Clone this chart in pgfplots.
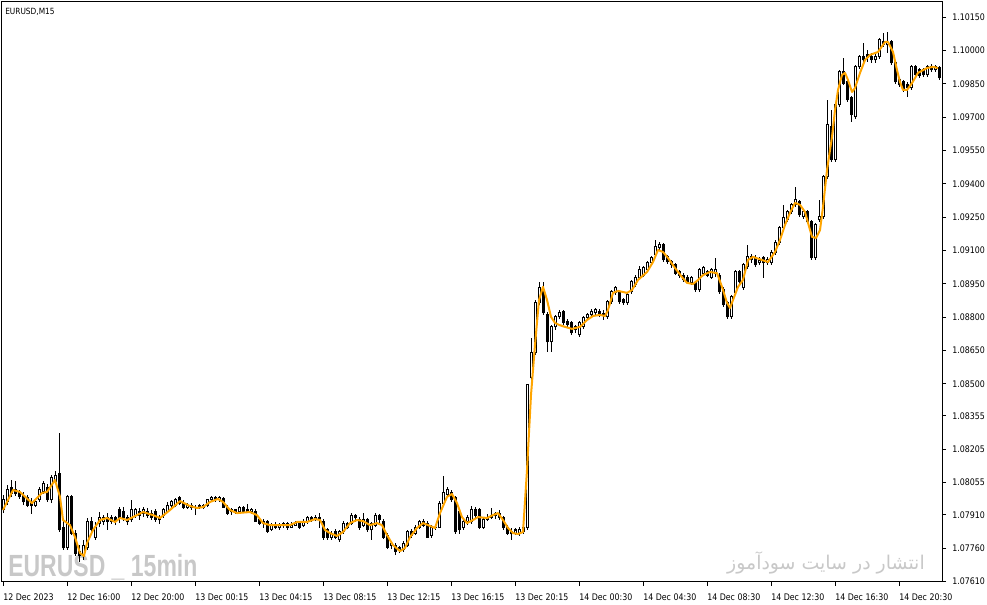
\documentclass[border=0pt]{standalone}
\usepackage{pgfplots}
\pgfplotsset{compat=1.18}
\usepackage{pgfplotstable}
\usepackage{fontspec}
\setmainfont{DejaVu Sans}[FakeStretch=0.87]
\newfontfamily\wmfont{Liberation Sans}[FakeStretch=0.75]
\newfontfamily\arabicfont[Script=Arabic]{DejaVu Sans}
\TeXXeTstate=1

\definecolor{maorange}{RGB}{255,165,0}
\definecolor{wmgray}{RGB}{200,200,200}

% EURUSD M15 candles: bar index, open, high, low, close
\pgfplotstableread{
i o h l c
0 1.07932 1.08000 1.07918 1.07977
1 1.07968 1.08044 1.07954 1.08022
2 1.08031 1.08067 1.07991 1.08004
3 1.08022 1.08062 1.07995 1.08004
4 1.08009 1.08022 1.07982 1.07991
5 1.07995 1.08013 1.07954 1.07968
6 1.07986 1.08000 1.07945 1.07954
7 1.07959 1.07986 1.07914 1.07950
8 1.07954 1.07977 1.07945 1.07968
9 1.07977 1.08035 1.07968 1.08022
10 1.08013 1.08062 1.08004 1.08049
11 1.08035 1.08049 1.07968 1.07977
12 1.07977 1.08089 1.07963 1.08080
13 1.08062 1.08107 1.08049 1.08089
14 1.08094 1.08278 1.07833 1.07842
15 1.07851 1.07887 1.07752 1.07761
16 1.07761 1.08000 1.07752 1.07991
17 1.07991 1.08000 1.07819 1.07828
18 1.07828 1.07842 1.07725 1.07738
19 1.07743 1.07774 1.07698 1.07725
20 1.07725 1.07797 1.07707 1.07774
21 1.07761 1.07896 1.07752 1.07878
22 1.07878 1.07900 1.07819 1.07842
23 1.07810 1.07878 1.07797 1.07855
24 1.07869 1.07923 1.07855 1.07900
25 1.07882 1.07909 1.07864 1.07896
26 1.07896 1.07918 1.07842 1.07882
27 1.07882 1.07909 1.07869 1.07896
28 1.07896 1.07905 1.07864 1.07878
29 1.07932 1.07945 1.07873 1.07896
30 1.07923 1.07945 1.07882 1.07896
31 1.07896 1.07909 1.07864 1.07878
32 1.07887 1.07977 1.07878 1.07932
33 1.07909 1.07941 1.07896 1.07932
34 1.07927 1.07941 1.07887 1.07909
35 1.07918 1.07945 1.07900 1.07932
36 1.07927 1.07941 1.07896 1.07909
37 1.07914 1.07932 1.07887 1.07900
38 1.07923 1.07936 1.07878 1.07891
39 1.07896 1.07909 1.07869 1.07887
40 1.07909 1.07941 1.07896 1.07932
41 1.07927 1.07968 1.07918 1.07950
42 1.07950 1.07977 1.07941 1.07968
43 1.07954 1.07986 1.07945 1.07977
44 1.07986 1.07995 1.07954 1.07963
45 1.07963 1.07977 1.07936 1.07945
46 1.07945 1.07963 1.07936 1.07954
47 1.07954 1.07963 1.07932 1.07941
48 1.07945 1.07954 1.07909 1.07941
49 1.07941 1.07959 1.07936 1.07950
50 1.07950 1.07959 1.07936 1.07945
51 1.07954 1.07982 1.07945 1.07977
52 1.07977 1.07995 1.07972 1.07986
53 1.07986 1.07995 1.07968 1.07977
54 1.07977 1.07995 1.07968 1.07986
55 1.07982 1.07991 1.07941 1.07945
56 1.07945 1.07954 1.07909 1.07918
57 1.07923 1.07941 1.07909 1.07932
58 1.07932 1.07936 1.07914 1.07923
59 1.07923 1.07950 1.07914 1.07941
60 1.07941 1.07950 1.07918 1.07927
61 1.07932 1.07959 1.07918 1.07927
62 1.07927 1.07941 1.07914 1.07932
63 1.07927 1.07936 1.07878 1.07882
64 1.07887 1.07900 1.07864 1.07873
65 1.07873 1.07891 1.07851 1.07882
66 1.07878 1.07887 1.07828 1.07837
67 1.07846 1.07873 1.07837 1.07864
68 1.07864 1.07878 1.07846 1.07855
69 1.07855 1.07873 1.07842 1.07860
70 1.07860 1.07878 1.07851 1.07869
71 1.07869 1.07878 1.07842 1.07855
72 1.07855 1.07878 1.07851 1.07864
73 1.07864 1.07882 1.07860 1.07873
74 1.07873 1.07882 1.07846 1.07855
75 1.07860 1.07891 1.07855 1.07878
76 1.07878 1.07905 1.07869 1.07900
77 1.07900 1.07905 1.07878 1.07887
78 1.07887 1.07909 1.07882 1.07900
79 1.07900 1.07918 1.07851 1.07887
80 1.07882 1.07891 1.07797 1.07810
81 1.07842 1.07851 1.07797 1.07806
82 1.07810 1.07837 1.07797 1.07824
83 1.07837 1.07846 1.07801 1.07810
84 1.07797 1.07842 1.07788 1.07833
85 1.07833 1.07882 1.07824 1.07873
86 1.07869 1.07878 1.07846 1.07855
87 1.07873 1.07918 1.07864 1.07905
88 1.07905 1.07914 1.07878 1.07896
89 1.07891 1.07900 1.07842 1.07855
90 1.07864 1.07918 1.07855 1.07887
91 1.07887 1.07896 1.07833 1.07842
92 1.07842 1.07878 1.07797 1.07869
93 1.07864 1.07918 1.07855 1.07909
94 1.07905 1.07914 1.07873 1.07887
95 1.07882 1.07891 1.07801 1.07810
96 1.07819 1.07828 1.07756 1.07765
97 1.07770 1.07792 1.07756 1.07783
98 1.07774 1.07783 1.07729 1.07747
99 1.07752 1.07770 1.07738 1.07761
100 1.07752 1.07792 1.07743 1.07783
101 1.07774 1.07842 1.07765 1.07833
102 1.07833 1.07846 1.07806 1.07815
103 1.07828 1.07864 1.07819 1.07855
104 1.07855 1.07887 1.07846 1.07878
105 1.07878 1.07891 1.07855 1.07864
106 1.07873 1.07882 1.07806 1.07810
107 1.07819 1.07864 1.07806 1.07855
108 1.07855 1.07869 1.07842 1.07851
109 1.07855 1.07972 1.07851 1.07963
110 1.07963 1.08085 1.07954 1.08009
111 1.08000 1.08035 1.07991 1.08022
112 1.08009 1.08022 1.07968 1.07977
113 1.07986 1.07995 1.07824 1.07833
114 1.07923 1.07941 1.07824 1.07842
115 1.07851 1.07891 1.07842 1.07878
116 1.07878 1.07909 1.07864 1.07896
117 1.07878 1.07950 1.07869 1.07932
118 1.07932 1.07945 1.07896 1.07909
119 1.07932 1.07941 1.07846 1.07855
120 1.07855 1.07896 1.07846 1.07887
121 1.07887 1.07914 1.07882 1.07900
122 1.07900 1.07941 1.07891 1.07905
123 1.07905 1.07923 1.07891 1.07914
124 1.07914 1.07932 1.07887 1.07900
125 1.07896 1.07905 1.07842 1.07851
126 1.07855 1.07864 1.07819 1.07828
127 1.07833 1.07851 1.07797 1.07824
128 1.07828 1.07851 1.07819 1.07842
129 1.07824 1.07855 1.07815 1.07842
130 1.07833 1.07900 1.07824 1.07851
131 1.07851 1.08499 1.07842 1.08495
132 1.08526 1.08706 1.08517 1.08639
133 1.08639 1.08877 1.08630 1.08864
134 1.08864 1.08958 1.08855 1.08931
135 1.08922 1.08958 1.08810 1.08819
136 1.08810 1.08823 1.08643 1.08688
137 1.08688 1.08765 1.08643 1.08756
138 1.08756 1.08810 1.08742 1.08801
139 1.08801 1.08832 1.08792 1.08819
140 1.08823 1.08832 1.08765 1.08774
141 1.08778 1.08792 1.08756 1.08765
142 1.08774 1.08783 1.08720 1.08729
143 1.08756 1.08765 1.08729 1.08742
144 1.08720 1.08783 1.08711 1.08774
145 1.08756 1.08805 1.08747 1.08796
146 1.08796 1.08819 1.08787 1.08810
147 1.08810 1.08837 1.08796 1.08823
148 1.08819 1.08841 1.08810 1.08832
149 1.08823 1.08837 1.08801 1.08810
150 1.08814 1.08832 1.08787 1.08805
151 1.08801 1.08877 1.08792 1.08868
152 1.08868 1.08922 1.08859 1.08913
153 1.08909 1.08940 1.08900 1.08931
154 1.08913 1.08922 1.08859 1.08868
155 1.08877 1.08886 1.08855 1.08864
156 1.08864 1.08909 1.08855 1.08900
157 1.08913 1.08967 1.08904 1.08958
158 1.08945 1.08989 1.08936 1.08980
159 1.08980 1.09030 1.08972 1.09012
160 1.08989 1.09030 1.08980 1.09021
161 1.09012 1.09053 1.09003 1.09044
162 1.09044 1.09075 1.09035 1.09066
163 1.09080 1.09147 1.09071 1.09116
164 1.09111 1.09138 1.09098 1.09125
165 1.09125 1.09134 1.09048 1.09057
166 1.09071 1.09080 1.09039 1.09048
167 1.09048 1.09057 1.09021 1.09035
168 1.09035 1.09044 1.08989 1.08998
169 1.09003 1.09012 1.08976 1.08989
170 1.08989 1.08998 1.08958 1.08967
171 1.08980 1.08989 1.08949 1.08958
172 1.08954 1.08985 1.08945 1.08976
173 1.08954 1.08963 1.08913 1.08922
174 1.08922 1.09021 1.08913 1.09012
175 1.08998 1.09030 1.08989 1.09021
176 1.09003 1.09012 1.08980 1.08989
177 1.08980 1.09021 1.08972 1.09012
178 1.08998 1.09066 1.08980 1.09012
179 1.08989 1.08998 1.08904 1.08913
180 1.08922 1.08936 1.08846 1.08855
181 1.08864 1.08872 1.08792 1.08801
182 1.08801 1.08900 1.08792 1.08891
183 1.08909 1.09012 1.08900 1.09003
184 1.09003 1.09012 1.08949 1.08958
185 1.08931 1.09044 1.08922 1.09035
186 1.09026 1.09125 1.09017 1.09071
187 1.09057 1.09084 1.09044 1.09071
188 1.09066 1.09080 1.09026 1.09035
189 1.09044 1.09071 1.09035 1.09053
190 1.09066 1.09075 1.08976 1.09044
191 1.09044 1.09071 1.09035 1.09057
192 1.09044 1.09102 1.09035 1.09089
193 1.09089 1.09147 1.09080 1.09134
194 1.09134 1.09210 1.09125 1.09201
195 1.09201 1.09305 1.09192 1.09246
196 1.09237 1.09282 1.09228 1.09273
197 1.09273 1.09314 1.09264 1.09305
198 1.09305 1.09386 1.09296 1.09327
199 1.09318 1.09327 1.09251 1.09260
200 1.09251 1.09282 1.09242 1.09273
201 1.09273 1.09282 1.09219 1.09228
202 1.09228 1.09237 1.09057 1.09066
203 1.09066 1.09224 1.09057 1.09215
204 1.09237 1.09327 1.09228 1.09251
205 1.09251 1.09440 1.09242 1.09431
206 1.09431 1.09777 1.09422 1.09665
207 1.09656 1.09732 1.09498 1.09507
208 1.09507 1.09764 1.09498 1.09755
209 1.09755 1.09912 1.09746 1.09903
210 1.09903 1.09966 1.09845 1.09853
211 1.09858 1.09867 1.09768 1.09777
212 1.09786 1.09795 1.09678 1.09710
213 1.09701 1.09935 1.09692 1.09926
214 1.09926 1.09980 1.09917 1.09971
215 1.09971 1.10034 1.09948 1.09957
216 1.09980 1.10002 1.09948 1.09966
217 1.09971 1.09989 1.09944 1.09957
218 1.09957 1.09984 1.09944 1.09971
219 1.09971 1.10056 1.09962 1.10047
220 1.10038 1.10079 1.10016 1.10025
221 1.10025 1.10083 1.09989 1.10034
222 1.10038 1.10047 1.09935 1.09944
223 1.09944 1.09953 1.09849 1.09858
224 1.09867 1.09876 1.09836 1.09845
225 1.09858 1.09867 1.09813 1.09822
226 1.09845 1.09858 1.09791 1.09831
227 1.09831 1.09935 1.09822 1.09926
228 1.09926 1.09935 1.09881 1.09890
229 1.09912 1.09921 1.09876 1.09885
230 1.09912 1.09921 1.09881 1.09890
231 1.09890 1.09935 1.09881 1.09926
232 1.09926 1.09939 1.09903 1.09912
233 1.09912 1.09935 1.09903 1.09926
234 1.09921 1.09930 1.09867 1.09876
}\candles

% orange moving average
\pgfplotstableread{
i ma
0 1.07932
2.5 1.08022
4.25 1.08013
7.25 1.07963
9.75 1.08009
11 1.08013
13 1.08067
14.25 1.07991
15 1.07887
16.75 1.07864
18 1.07810
19.25 1.07738
20.25 1.07725
21 1.07783
22.5 1.07842
24.25 1.07887
26 1.07896
28 1.07878
29.25 1.07896
31 1.07887
32.5 1.07900
35 1.07923
37.5 1.07909
39.25 1.07896
41.75 1.07932
44.25 1.07972
46.75 1.07950
48.5 1.07941
50 1.07945
51.75 1.07968
53.75 1.07982
55 1.07968
56.75 1.07932
58.5 1.07918
61.75 1.07923
63.5 1.07909
65 1.07873
66.75 1.07864
71.75 1.07864
73.5 1.07878
76 1.07878
78 1.07891
79.25 1.07887
80.5 1.07842
81.75 1.07828
83.5 1.07815
85 1.07833
86.75 1.07873
88.5 1.07887
90 1.07882
91.75 1.07864
93.5 1.07873
94.75 1.07864
96 1.07819
97.5 1.07774
99.25 1.07747
100.5 1.07761
101.75 1.07810
103.5 1.07851
105 1.07873
106.25 1.07864
108 1.07851
109.25 1.07918
111 1.07991
112.25 1.08004
113.5 1.07963
114.75 1.07900
116 1.07873
117.5 1.07887
118.75 1.07900
121 1.07896
122.5 1.07909
123.75 1.07918
125 1.07887
126.25 1.07851
127.5 1.07828
128.75 1.07824
130 1.07833
131 1.08112
132 1.08450
133 1.08675
134 1.08877
135 1.08936
136 1.08877
137 1.08801
138 1.08774
139 1.08765
140.5 1.08756
142.25 1.08747
144.25 1.08756
146 1.08787
147.5 1.08805
149.25 1.08810
150.5 1.08805
151.25 1.08832
152.5 1.08909
153.75 1.08918
156 1.08909
157.25 1.08922
158.75 1.08967
161 1.09003
162.5 1.09048
163.75 1.09102
165 1.09093
166.25 1.09066
168 1.09021
169.75 1.08980
171 1.08954
172.5 1.08949
173.75 1.08967
175 1.08989
176.75 1.09003
178.5 1.08998
179.75 1.08936
181 1.08864
181.75 1.08841
182.5 1.08877
183.75 1.08936
185 1.08967
186.25 1.09057
187.5 1.09071
189.75 1.09057
191.25 1.09048
193 1.09093
194.25 1.09147
195.5 1.09215
196.75 1.09269
198 1.09314
199.25 1.09305
200.5 1.09273
201.25 1.09224
202.25 1.09161
203.25 1.09156
204.25 1.09192
205 1.09296
206 1.09462
207.25 1.09611
208 1.09732
208.75 1.09822
209.75 1.09890
210.5 1.09899
211.25 1.09867
212.25 1.09813
213 1.09831
214.25 1.09899
215.5 1.09957
216.75 1.09980
218.75 1.09993
220.5 1.10038
221.25 1.10038
222.5 1.09993
223.5 1.09912
224.25 1.09858
225 1.09822
226 1.09822
227.25 1.09853
228.75 1.09899
231 1.09921
232.5 1.09926
233.75 1.09921
}\ma

\begin{document}
\begin{tikzpicture}
\useasboundingbox (0,0) rectangle (740.25pt,453.75pt);

% watermarks sit behind the candles
\node[anchor=base west, inner sep=0pt, text=wmgray,
      font=\wmfont\bfseries\fontsize{23}{23}\selectfont] at (6pt,21pt) {EURUSD \_ 15min};
\node[anchor=base east, inner sep=0pt, text=wmgray,
      font=\arabicfont\fontsize{14.2}{14.2}\selectfont] at (693.75pt,26.25pt)
      {\beginR انتشار در سایت سودآموز\endR};

\begin{axis}[
    at={(0.75pt,17.25pt)}, anchor=south west,
    scale only axis, width=705.75pt, height=435pt,
    xmin=-0.5, xmax=234.75, ymin=1.07608, ymax=1.10218,
    axis line style={black, line width=0.75pt},
    tick style={black, line width=0.75pt},
    major tick length=3pt, tick align=outside,
    xtick pos=left, ytick pos=right, yticklabel pos=right,
    xtick={0,16,32,48,64,80,96,112,128,144,160,176,192,208,224},
    xticklabels={12 Dec 2023,12 Dec 16:00,12 Dec 20:00,13 Dec 00:15,13 Dec 04:15,
        13 Dec 08:15,13 Dec 12:15,13 Dec 16:15,13 Dec 20:15,14 Dec 00:30,
        14 Dec 04:30,14 Dec 08:30,14 Dec 12:30,14 Dec 16:30,14 Dec 20:30},
    ytick={1.07610,1.07760,1.07910,1.08055,1.08205,1.08355,1.08500,1.08650,1.08800,
        1.08950,1.09100,1.09250,1.09400,1.09550,1.09700,1.09850,1.10000,1.10150},
    yticklabels={1.07610,1.07760,1.07910,1.08055,1.08205,1.08355,1.08500,1.08650,1.08800,
        1.08950,1.09100,1.09250,1.09400,1.09550,1.09700,1.09850,1.10000,1.10150},
    scaled y ticks=false,
    ticklabel style={font=\fontsize{6.8}{8}\selectfont, inner sep=0pt},
    xticklabel style={anchor=north west, yshift=-6pt},
    yticklabel style={anchor=west, xshift=4.5pt},
]

% wicks
\addplot[draw=none, mark=none,
    error bars/.cd, y dir=plus, y explicit, error mark=none,
    error bar style={draw=black, line width=0.75pt, line cap=butt}]
    table[x=i, y=l, y error plus expr=\thisrow{h}-\thisrow{l}] {\candles};

% bodies (outline / black fill)
\addplot[draw=none, mark=none,
    error bars/.cd, y dir=plus, y explicit, error mark=none,
    error bar style={draw=black, line width=2.25pt, line cap=butt}]
    table[x=i, y expr={min(\thisrow{o},\thisrow{c})-2.25e-5},
          y error plus expr={abs(\thisrow{c}-\thisrow{o})+4.5e-5}] {\candles};

% white inside of rising candles
\addplot[draw=none, mark=none,
    error bars/.cd, y dir=plus, y explicit, error mark=none,
    error bar style={draw=white, line width=0.75pt, line cap=butt}]
    table[x=i, y expr={\thisrow{o}+2.25e-5},
          y error plus expr={max(\thisrow{c}-\thisrow{o}-4.5e-5,0)}] {\candles};

% moving average
\addplot[color=maorange, line width=1.5pt, mark=none, line join=round]
    table[x=i, y=ma] {\ma};

\end{axis}

\node[anchor=base west, inner sep=0pt, font=\fontsize{6.4}{7.5}\selectfont]
    at (3.75pt,442.5pt) {EURUSD,M15};
\end{tikzpicture}
\end{document}
